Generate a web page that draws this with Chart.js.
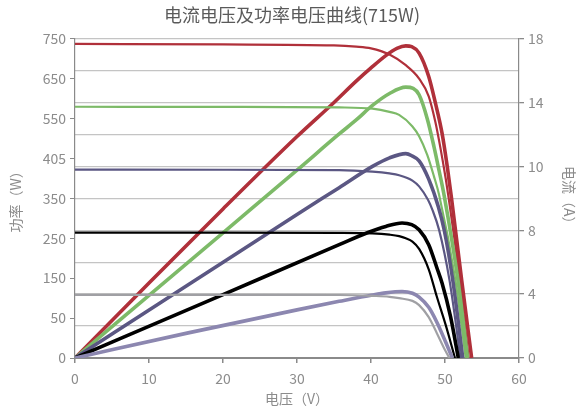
<!DOCTYPE html>
<html>
<head>
<meta charset="utf-8">
<script src="https://cdn.jsdelivr.net/npm/chart.js@4.4.1/dist/chart.umd.min.js"></script>
<style>
  html, body { margin: 0; padding: 0; background: #fff; }
  #wrap { width: 584px; height: 412px; }
</style>
</head>
<body>
<div id="wrap"><canvas id="ivChart"></canvas></div>
<script>
// ===== Data =====
// tick labels (evenly spaced on both axes)
const powerTickLabels = ['0', '50', '150', '250', '350', '405', '550', '650', '750'];
const currentTickLabels = ['0', '4', '8', '10', '14', '18'];

// red curves
const iv1000V = [0, 20, 35, 38, 40, 42.5, 44.7, 46.5, 47.8, 48.7, 49.4, 50.1, 50.5, 52.0, 53.2];
const iv1000I = [17.7, 17.67, 17.62, 17.55, 17.45, 17.1, 16.5, 15.75, 14.75, 13.3, 11.8, 10.1, 9.0, 4.4, 0];
const pv1000V = [0, 10, 20, 30, 35, 38, 40, 42, 43.5, 44.7, 45.5, 46.5, 47.8, 48.7, 49.6, 50.3, 50.85, 52.25, 53.6];
const pv1000P = [0, 176, 350, 520, 600, 650, 681, 710, 727, 733, 731, 716, 661, 599, 528, 450, 379, 183, 0];

// green curves
const iv800V = [0, 20, 35.7, 40.2, 42.5, 43.8, 45.6, 46.5, 47.6, 48.5, 49.2, 51.4, 52.8];
const iv800I = [14.16, 14.15, 14.12, 14.05, 13.87, 13.7, 13.05, 12.5, 11.45, 10.25, 9.2, 4.4, 0];
const pv800V = [0, 10, 20, 30, 35.7, 38, 40.2, 42.5, 44.7, 45.7, 46.5, 47.6, 48.5, 49.2, 49.9, 51.75, 53.05];
const pv800P = [0, 147, 294, 441, 526, 559, 593, 621, 636, 633, 618, 562, 497, 440, 380, 183, 0];

// purple curves
const iv600V = [0, 20, 35.7, 40.2, 42.5, 43.8, 45.6, 46.5, 47.7, 48.3, 49.2, 50.6, 52.1];
const iv600I = [10.62, 10.61, 10.59, 10.5, 10.4, 10.3, 10.0, 9.67, 8.92, 8.35, 7.22, 4.4, 0];
const pv600V = [0, 15.3, 30, 35.7, 40.2, 42.5, 44.7, 45.6, 46.5, 47.8, 49.1, 49.9, 51.05, 52.4];
const pv600P = [0, 172, 337, 400, 450, 470, 480, 474, 463, 420, 355, 300, 183, 0];

// black curves
const iv400V = [0, 20, 35.7, 40.2, 42.5, 43.8, 44.7, 45.6, 46.5, 47.8, 48.9, 50.1, 51.35];
const iv400I = [7.06, 7.06, 7.05, 7.02, 6.95, 6.87, 6.75, 6.56, 6.15, 5.0, 3.45, 1.85, 0];
const pv400V = [0, 20, 35.7, 39.5, 42, 44.2, 45.5, 46.5, 47.8, 48.9, 49.6, 50.75, 51.8];
const pv400P = [0, 149, 266, 294, 309, 317, 313, 301, 266, 212, 176, 97, 0];

// grey / lavender curves
const iv200V = [0, 20, 35.7, 40.2, 42.5, 43.8, 45.6, 46.5, 47.8, 48.9, 50.0, 50.6];
const iv200I = [3.56, 3.56, 3.55, 3.5, 3.45, 3.37, 3.22, 2.98, 2.3, 1.4, 0.45, 0];
const pv200V = [0, 15.3, 30, 35.7, 40.2, 42, 44.2, 45.6, 46.5, 47.8, 48.9, 50.1, 51.0];
const pv200P = [0, 59, 113, 133, 148, 153, 156, 152, 143, 119, 84, 37, 0];

// ===== Helpers =====
const pts = (xs, ys) => xs.map((x, i) => ({ x: x, y: ys[i] }));

function curve(xs, ys, color, width, axis) {
    return {
        data: pts(xs, ys),
        borderColor: color,
        borderWidth: width,
        yAxisID: axis,
        pointRadius: 0,
        fill: false,
        cubicInterpolationMode: 'monotone'
    };
}

const CUR_W = 2.2;   // current lines are thin
const PWR_W = 3.6;   // power lines are thick

const fontFamily = '"Noto Sans CJK SC", "Noto Sans", sans-serif';
const tickColor = '#8c8c8c';
const gridColor = '#c4c4c4';
const axisColor = '#8a8a8a';

const powerMax = 750;
const currentMax = 18;

// ===== Chart =====
const ctx = document.getElementById('ivChart').getContext('2d');
const ivChart = new Chart(ctx, {
    type: 'line',
    data: {
        datasets: [
            curve(iv200V, iv200I, '#a0a0a4', CUR_W, 'y1'),
            curve(pv200V, pv200P, '#8c87b0', PWR_W, 'y'),
            curve(iv400V, iv400I, '#000000', CUR_W, 'y1'),
            curve(pv400V, pv400P, '#000000', PWR_W, 'y'),
            curve(iv600V, iv600I, '#5b5783', CUR_W, 'y1'),
            curve(pv600V, pv600P, '#5b5783', PWR_W, 'y'),
            curve(iv800V, iv800I, '#7dba68', CUR_W, 'y1'),
            curve(pv800V, pv800P, '#7dba68', PWR_W, 'y'),
            curve(iv1000V, iv1000I, '#b0303a', CUR_W, 'y1'),
            curve(pv1000V, pv1000P, '#b0303a', PWR_W, 'y')
        ]
    },
    options: {
        responsive: true,
        maintainAspectRatio: false,
        animation: false,
        layout: { padding: 0 },
        plugins: {
            legend: { display: false },
            tooltip: { enabled: false },
            title: {
                display: true,
                text: '电流电压及功率电压曲线(715W)',
                color: '#5a5a5a',
                font: { family: fontFamily, size: 18, weight: 'normal' },
                padding: { top: 4, bottom: 13 }
            }
        },
        scales: {
            x: {
                type: 'linear',
                position: 'bottom',
                min: 0,
                max: 60,
                ticks: {
                    stepSize: 10,
                    color: tickColor,
                    font: { family: fontFamily, size: 14 },
                    padding: 7
                },
                grid: {
                    drawOnChartArea: false,
                    drawTicks: true,
                    tickLength: 5,
                    color: axisColor,
                    lineWidth: 1.5
                },
                border: { color: axisColor, width: 2 },
                title: {
                    display: true,
                    text: '电压（V）',
                    color: tickColor,
                    font: { family: fontFamily, size: 14 },
                    padding: { top: 0, bottom: 5 }
                },
                afterFit: s => { s.height = 54; }
            },
            y: {
                type: 'linear',
                position: 'left',
                min: 0,
                max: powerMax,
                afterBuildTicks: s => {
                    s.ticks = powerTickLabels.map((l, i) => ({ value: powerMax * i / (powerTickLabels.length - 1) }));
                },
                ticks: {
                    color: tickColor,
                    font: { family: fontFamily, size: 14 },
                    padding: 4,
                    callback: (v, i) => powerTickLabels[i]
                },
                grid: {
                    drawOnChartArea: false,
                    tickLength: 5,
                    color: axisColor
                },
                border: { color: axisColor, width: 1.2 },
                title: {
                    display: true,
                    text: '功率（W）',
                    color: tickColor,
                    font: { family: fontFamily, size: 14 },
                    padding: { top: 7, bottom: 0 }
                },
                afterFit: s => { s.width = 75; }
            },
            y1: {
                type: 'linear',
                position: 'right',
                min: 0,
                max: currentMax,
                afterBuildTicks: s => {
                    const n = (currentTickLabels.length - 1) * 2;
                    s.ticks = [];
                    for (let i = 0; i <= n; i++) s.ticks.push({ value: currentMax * i / n });
                },
                ticks: {
                    color: tickColor,
                    font: { family: fontFamily, size: 14 },
                    padding: 4,
                    autoSkip: false,
                    callback: (v, i) => (i % 2 === 0 ? currentTickLabels[i / 2] : '')
                },
                grid: {
                    drawOnChartArea: true,
                    tickLength: 5,
                    color: c => (c.index === 0 ? 'rgba(0,0,0,0)' : gridColor),
                    tickColor: c => (c.index % 2 === 0 ? axisColor : 'rgba(0,0,0,0)'),
                    lineWidth: 1.3
                },
                border: { color: axisColor, width: 1.2 },
                title: {
                    display: true,
                    text: '电流（A）',
                    color: tickColor,
                    font: { family: fontFamily, size: 14 },
                    padding: { top: 6, bottom: 0 }
                },
                afterFit: s => { s.width = 65; }
            }
        }
    }
});
</script>
</body>
</html>
